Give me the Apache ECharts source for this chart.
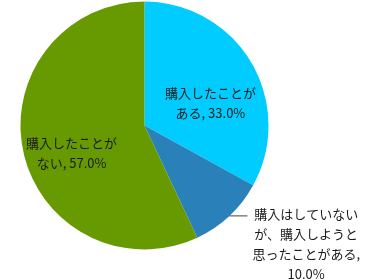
<!doctype html>
<html>
<head>
    <meta charset="UTF-8">
    <script src="https://cdn.jsdelivr.net/npm/echarts@6/dist/echarts.min.js"></script>
    <style>
        html, body { margin: 0; padding: 0; background: #fff; }
        #pie { width: 370px; height: 280px; }
    </style>
</head>
<body>
<div id="pie"></div>
<script type="text/javascript">
    // 購入経験の回答割合
    var names = ['購入したことがある', '購入はしていないが、購入しようと思ったことがある', '購入したことがない'];
    var values = [33.0, 10.0, 57.0];
    var colors = ['#00CCFF', '#2A80B8', '#679A00'];
    // ラベルの改行位置（最後の行に値が付く）
    var labelLines = [
        ['購入したことが', 'ある, '],
        ['購入はしていない', 'が、購入しようと', '思ったことがある,', ''],
        ['購入したことが', 'ない, ']
    ];

    var myChart = echarts.init(document.getElementById('pie'));

    var textStyle = { align: 'center', fontSize: 13, lineHeight: 20, color: '#1a1a1a', fontFamily: 'Noto Sans CJK JP' };

    var data = names.map(function (n, i) {
        var item = { name: n, value: values[i], itemStyle: { color: colors[i] } };
        if (i === 0) {
            item.label = { padding: [21, 0, 0, 20] };
        }
        if (i === 2) {
            item.label = { padding: [26, 19, 0, 0] };
        }
        if (i === 1) {
            item.label = { position: 'outside', padding: [56, 0, 0, 0] };
            item.labelLine = { show: true, length: 0, length2: 18, lineStyle: { color: '#444', width: 1 } };
        }
        return item;
    });

    var option = {
        animation: false,
        series: [{
            type: 'pie',
            center: [144.5, 125.5],
            radius: 124,
            startAngle: 90,
            clockwise: true,
            avoidLabelOverlap: false,
            label: {
                show: true,
                position: 'inside',
                formatter: function (p) {
                    var t = labelLines[p.dataIndex].slice();
                    t[t.length - 1] += p.value.toFixed(1) + '%';
                    return t.map(function (s) { return '{c|' + s + '}'; }).join('\n');
                },
                rich: { c: textStyle }
            },
            labelLine: { show: false },
            data: data
        }]
    };

    myChart.setOption(option);
</script>
</body>
</html>
